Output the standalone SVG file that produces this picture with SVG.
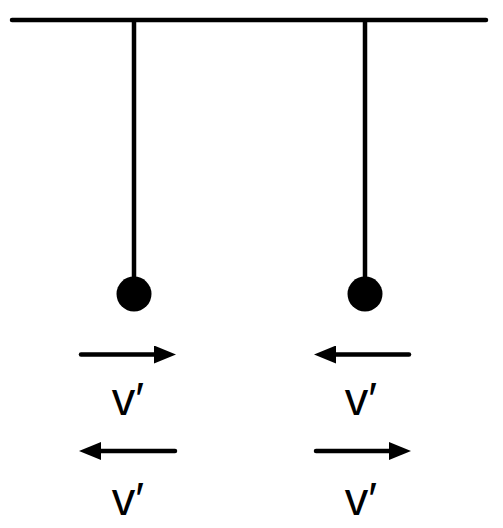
<svg xmlns="http://www.w3.org/2000/svg" width="503" height="528" viewBox="0 0 503 528">
<style>
.ln{stroke:#000;stroke-width:4.5;stroke-linecap:round;fill:none}
.lbl{font-family:"Liberation Sans","DejaVu Sans",sans-serif;font-size:47px;fill:#000;text-anchor:middle}
</style>
<defs>
<marker id="ah" viewBox="0 0 22 18" refX="12" refY="9" markerWidth="22" markerHeight="18" markerUnits="userSpaceOnUse" orient="auto">
<path d="M0,0 L22,9 L0,18 Z" fill="#000"/>
</marker>
</defs>
<rect width="503" height="528" fill="#fff"/>
<g id="support">
<line class="ln" x1="12" y1="20" x2="486" y2="20"/>
</g>
<g id="pendulum-left">
<line class="ln" x1="134" y1="20" x2="134" y2="285" style="stroke-linecap:butt"/>
<circle cx="134" cy="294" r="17.5" fill="#000"/>
</g>
<g id="pendulum-right">
<line class="ln" x1="365" y1="20" x2="365" y2="285" style="stroke-linecap:butt"/>
<circle cx="365" cy="294" r="17.5" fill="#000"/>
</g>
<g id="connectors">
<line class="ln" x1="81" y1="354.5" x2="166" y2="354.5" marker-end="url(#ah)"/>
<line class="ln" x1="409" y1="354.5" x2="324" y2="354.5" marker-end="url(#ah)"/>
<line class="ln" x1="175" y1="451" x2="89" y2="451" marker-end="url(#ah)"/>
<line class="ln" x1="316" y1="451" x2="401" y2="451" marker-end="url(#ah)"/>
</g>
<g id="labels">
<text class="lbl" x="128" y="415">v′</text>
<text class="lbl" x="361" y="415">v′</text>
<text class="lbl" x="128" y="515">v′</text>
<text class="lbl" x="361" y="515">v′</text>
</g>
</svg>
